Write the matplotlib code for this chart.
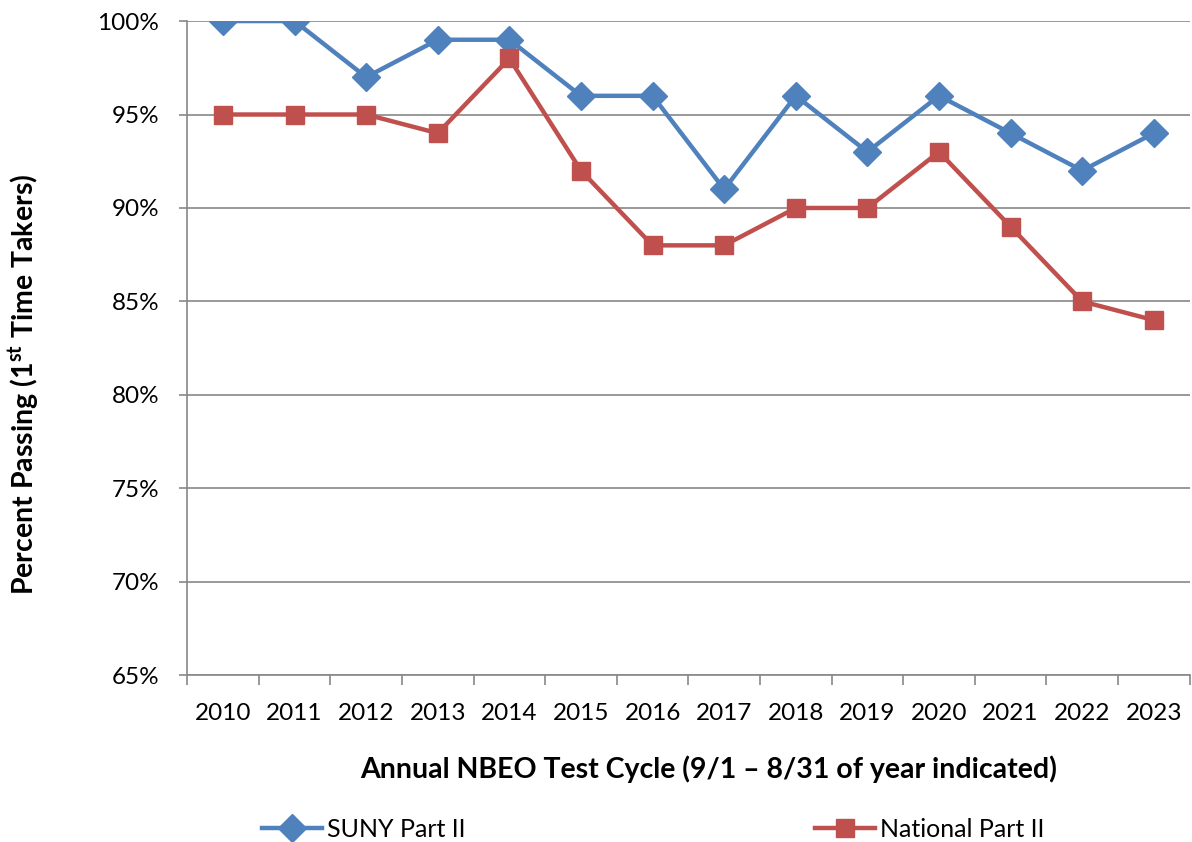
import matplotlib
matplotlib.use("Agg")
import matplotlib.pyplot as plt
import numpy as np
from matplotlib.ticker import FixedLocator, PercentFormatter

plt.rcParams["font.family"] = ["Lato", "DejaVu Sans"]
plt.rcParams["mathtext.fontset"] = "custom"
plt.rcParams["mathtext.rm"] = "Lato"
plt.rcParams["mathtext.bf"] = "Lato:bold"

anos = ["2010", "2011", "2012", "2013", "2014", "2015", "2016",
        "2017", "2018", "2019", "2020", "2021", "2022", "2023"]
suny = [100, 100, 97, 99, 99, 96, 96, 91, 96, 93, 96, 94, 92, 94]
nacional = [95, 95, 95, 94, 98, 92, 88, 88, 90, 90, 93, 89, 85, 84]

azul = "#4F81BD"
vermelho = "#C0504D"
cinza = "#888888"

fig = plt.figure(figsize=(11.92, 8.42), dpi=100)
ax = fig.add_axes([0.157, 0.198, 0.841, 0.777])

x = np.arange(len(anos))

ax.plot(x, suny, color=azul, linewidth=3.2, marker="D",
        markersize=14, label="SUNY Part II")
ax.plot(x, nacional, color=vermelho, linewidth=3.2, marker="s",
        markersize=13, label="National Part II")

ax.set_xlim(-0.5, len(anos) - 0.5)
ax.set_ylim(65, 100)
ax.set_yticks(np.arange(65, 101, 5))
ax.yaxis.set_major_formatter(PercentFormatter(decimals=0))
ax.grid(axis="y", color=cinza, linewidth=1.2)
ax.set_axisbelow(True)

ax.set_xticks(x)
ax.set_xticklabels(anos)
ax.xaxis.set_minor_locator(FixedLocator(np.arange(-0.5, len(anos), 1)))
ax.tick_params(axis="x", which="major", length=0, pad=20, labelsize=17.5)
ax.tick_params(axis="x", which="minor", length=7, color=cinza, width=1.2)
ax.tick_params(axis="y", length=6, color=cinza, width=1.2, labelsize=17.5,
               pad=14)

for lado in ["top", "right"]:
    ax.spines[lado].set_visible(False)
for lado in ["left", "bottom"]:
    ax.spines[lado].set_color(cinza)
    ax.spines[lado].set_linewidth(1.2)

ax.set_xlabel("Annual NBEO Test Cycle (9/1 \u2013 8/31 of year indicated)",
              fontsize=20.5, fontweight="bold")
ax.xaxis.set_label_coords(0.52, -0.122)
ax.set_ylabel(r"Percent Passing (1$^{\mathbf{st}}$ Time Takers)",
              fontsize=20.5, fontweight="bold")
ax.yaxis.set_label_coords(-0.145, 0.445)

fig.legend(loc="center", bbox_to_anchor=(0.548, 0.015), ncol=2,
           frameon=False, fontsize=18, columnspacing=14,
           handlelength=2.4, handletextpad=0.2)

fig.savefig("out.png", dpi=100)
